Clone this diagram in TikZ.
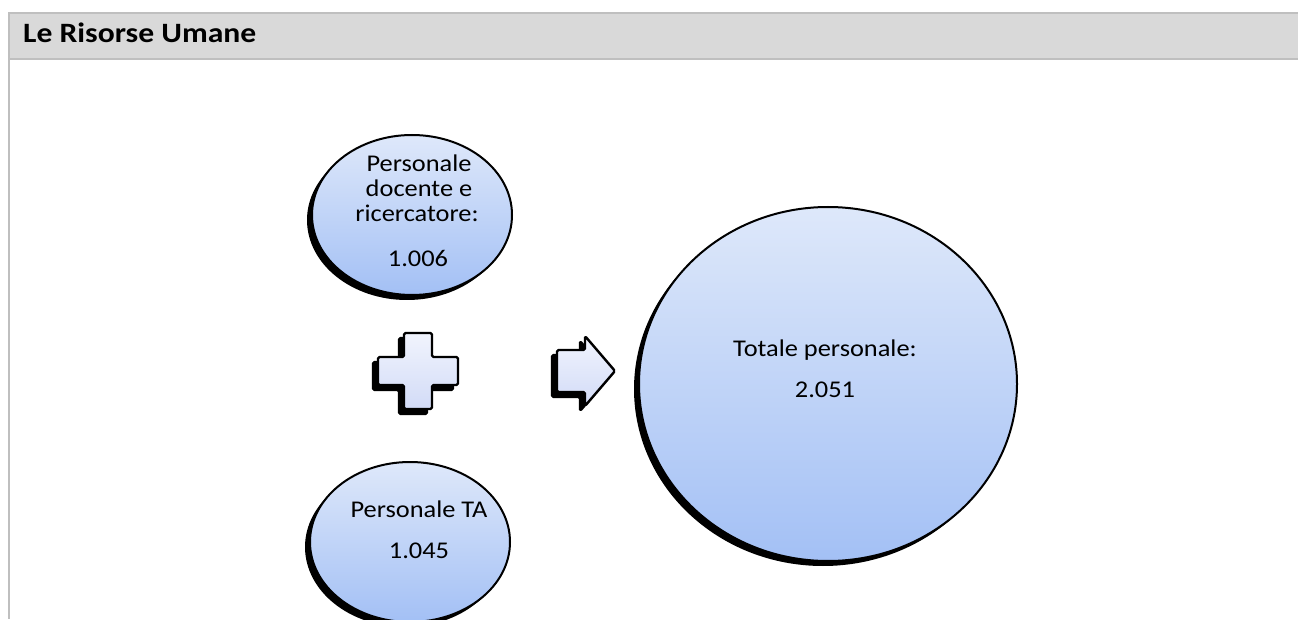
\documentclass[tikz,border=0pt]{standalone}
\usepackage{fontspec}
\usepackage{graphicx}
\setmainfont{Carlito}
\usetikzlibrary{shapes.geometric}
\definecolor{hdrfill}{HTML}{D9D9D9}
\definecolor{hdrline}{HTML}{BFBFBF}
\definecolor{btop}{HTML}{DEE8FA}
\definecolor{bbot}{HTML}{A3C0F5}
\definecolor{symtop}{HTML}{F1F4FD}
\definecolor{symbot}{HTML}{D2DBF7}
\newcommand{\hstr}[1]{\scalebox{1.1}[1]{#1}}
\begin{document}
\begin{tikzpicture}[x=1pt,y=1pt,
  bubble/.style={ellipse, draw=black, line width=2pt, top color=btop, bottom color=bbot, inner sep=0pt, outer sep=0pt},
  bubshadow/.style={ellipse, fill=black, inner sep=0pt, outer sep=0pt},
  lbl/.style={font=\fontsize{24}{26}\selectfont, anchor=base, inner sep=0pt},
  symb/.style={draw=black, line width=2.4pt, top color=symtop, bottom color=symbot, rounded corners=1.5pt, line join=round},
  symshadow/.style={fill=black, draw=black, line width=2.4pt, rounded corners=1.5pt, line join=round}]
\useasboundingbox (0,0) rectangle (1298,619);
% header
\fill[white] (0,0) rectangle (1298,619);
\path[fill=hdrfill] (9,606) rectangle (1298,560);
\draw[hdrline, line width=2pt] (1298,606) -- (9,606) -- (9,0);
\draw[hdrline, line width=2pt] (9,560) -- (1298,560);
\node[anchor=base west, inner sep=0pt, font=\bfseries\fontsize{28}{30}\selectfont] (title) at (23,576) {\scalebox{1.13}[1]{Le Risorse Umane}};
% top bubble
\node[bubshadow, minimum width=200pt, minimum height=160pt] (topsh) at (407,399) {};
\node[bubble, minimum width=200pt, minimum height=160pt] (top) at (412,404) {};
\node[lbl] (t1) at (419,447) {\hstr{Personale}};
\node[lbl] (t2) at (419,422) {\hstr{docente e}};
\node[lbl] (t3) at (417,397) {\hstr{ricercatore:}};
\node[lbl] (t4) at (418,352) {\hstr{1.006}};
% bottom bubble
\node[bubshadow, minimum width=200pt, minimum height=160pt] (botsh) at (405,72) {};
\node[bubble, minimum width=200pt, minimum height=160pt] (bot) at (410,77) {};
\node[lbl] (b1) at (419,102) {\hstr{Personale TA}};
\node[lbl] (b2) at (419,61) {\hstr{1.045}};
% big bubble
\node[bubshadow, minimum width=378pt, minimum height=354pt] (bigsh) at (823,230) {};
\node[bubble, minimum width=378pt, minimum height=354pt] (big) at (828,235) {};
\node[lbl] (g1) at (825,262) {\hstr{Totale personale:}};
\node[lbl] (g2) at (825,222) {\hstr{2.051}};
% plus sign
\begin{scope}[shift={(-5,-5)}]
\path[symshadow] (404,286) -- (432,286) -- (432,262) -- (458,262) -- (458,234) -- (432,234) -- (432,210) -- (404,210) -- (404,234) -- (378,234) -- (378,262) -- (404,262) -- cycle;
\end{scope}
\path[symb] (404,286) -- (432,286) -- (432,262) -- (458,262) -- (458,234) -- (432,234) -- (432,210) -- (404,210) -- (404,234) -- (378,234) -- (378,262) -- (404,262) -- cycle;
\coordinate (plus) at (418,248);
% arrow
\begin{scope}[shift={(-5,-5)}]
\path[symshadow] (557,269) -- (585,269) -- (585,283) -- (615,248) -- (585,213) -- (585,227) -- (557,227) -- cycle;
\end{scope}
\path[symb] (557,269) -- (585,269) -- (585,283) -- (615,248) -- (585,213) -- (585,227) -- (557,227) -- cycle;
\coordinate (arrow) at (586,248);
\end{tikzpicture}
\end{document}
